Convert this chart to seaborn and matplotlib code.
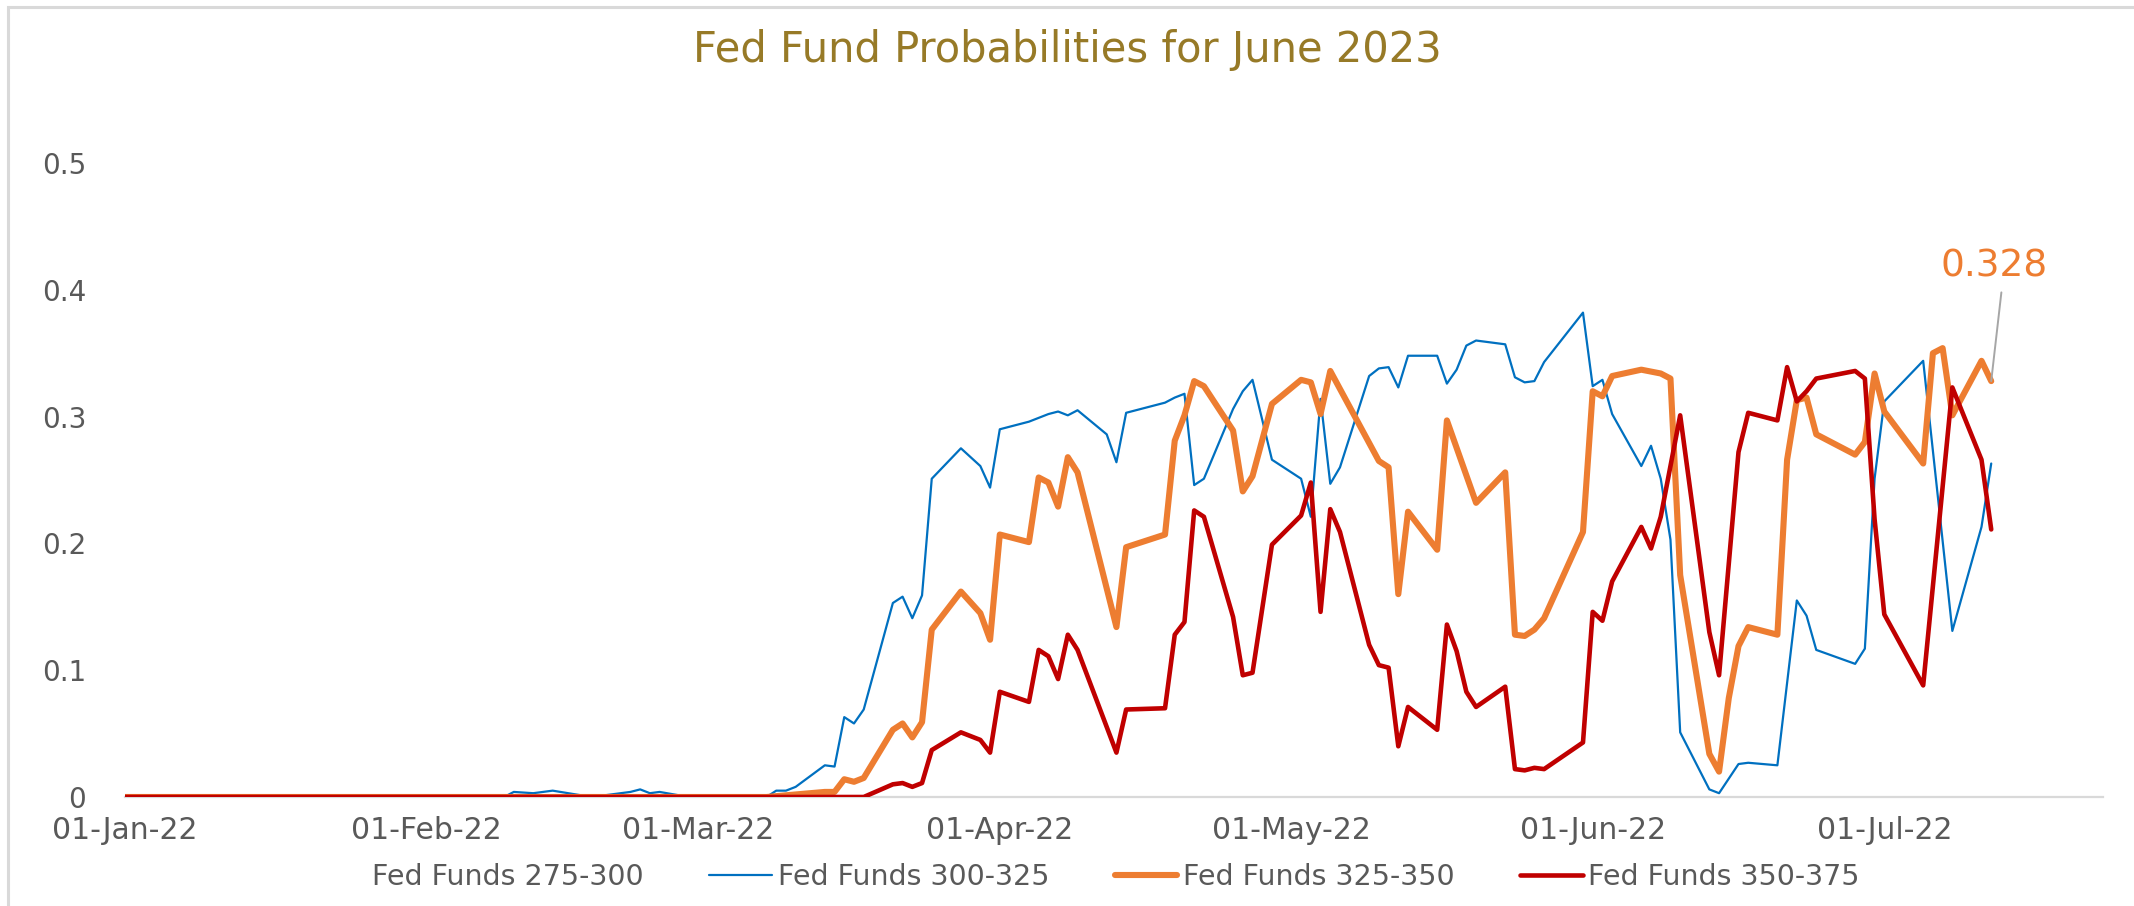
import pandas as pd
import matplotlib
matplotlib.use("Agg")
import matplotlib.pyplot as plt
import matplotlib.dates as mdates
from matplotlib.lines import Line2D
from matplotlib.patches import Rectangle
import seaborn as sns

# Fed funds probabilities for the June 2023 meeting
blue_dates = ['2022-01-01', '2022-02-09', '2022-02-10', '2022-02-12', '2022-02-14', '2022-02-18', '2022-02-19',
              '2022-02-22', '2022-02-23', '2022-02-24', '2022-02-25', '2022-02-28', '2022-03-08', '2022-03-09',
              '2022-03-10', '2022-03-11', '2022-03-14', '2022-03-15', '2022-03-16', '2022-03-17', '2022-03-18',
              '2022-03-21', '2022-03-22', '2022-03-23', '2022-03-24', '2022-03-25', '2022-03-28', '2022-03-30',
              '2022-03-31', '2022-04-01', '2022-04-04', '2022-04-06', '2022-04-07', '2022-04-08', '2022-04-09',
              '2022-04-12', '2022-04-13', '2022-04-14', '2022-04-18', '2022-04-19', '2022-04-20', '2022-04-21',
              '2022-04-22', '2022-04-25', '2022-04-26', '2022-04-27', '2022-04-29', '2022-05-02', '2022-05-03',
              '2022-05-04', '2022-05-05', '2022-05-06', '2022-05-09', '2022-05-10', '2022-05-11', '2022-05-12',
              '2022-05-13', '2022-05-16', '2022-05-17', '2022-05-18', '2022-05-19', '2022-05-20', '2022-05-23',
              '2022-05-24', '2022-05-25', '2022-05-26', '2022-05-27', '2022-05-31', '2022-06-01', '2022-06-02',
              '2022-06-03', '2022-06-06', '2022-06-07', '2022-06-08', '2022-06-09', '2022-06-10', '2022-06-13',
              '2022-06-14', '2022-06-16', '2022-06-17', '2022-06-20', '2022-06-22', '2022-06-23', '2022-06-24',
              '2022-06-28', '2022-06-29', '2022-06-30', '2022-07-01', '2022-07-05', '2022-07-08', '2022-07-11',
              '2022-07-12']
blue_vals = [0, 0, .004, .003, .005, 0, .001, .004, .006, .003, .004, 0, 0, .005,
             .005, .008, .025, .024, .063, .058, .069, .153, .158, .141, .159, .251, .275, .261,
             .244, .290, .296, .302, .304, .301, .305, .286, .264, .303, .311, .315, .318, .246,
             .251, .306, .320, .329, .266, .251, .221, .314, .247, .260, .332, .338, .339, .323,
             .348, .348, .326, .337, .356, .360, .357, .331, .327, .328, .343, .382, .324, .329,
             .302, .261, .277, .251, .203, .051, .006, .003, .026, .027, .025, .155, .143, .116,
             .105, .117, .251, .312, .344, .131, .213, .263]

orange_dates = ['2022-01-01', '2022-03-08', '2022-03-14', '2022-03-15', '2022-03-16', '2022-03-17', '2022-03-18',
                '2022-03-21', '2022-03-22', '2022-03-23', '2022-03-24', '2022-03-25', '2022-03-28', '2022-03-30',
                '2022-03-31', '2022-04-01', '2022-04-04', '2022-04-05', '2022-04-06', '2022-04-07', '2022-04-08',
                '2022-04-09', '2022-04-13', '2022-04-14', '2022-04-18', '2022-04-19', '2022-04-20', '2022-04-21',
                '2022-04-22', '2022-04-25', '2022-04-26', '2022-04-27', '2022-04-29', '2022-05-02', '2022-05-03',
                '2022-05-04', '2022-05-05', '2022-05-10', '2022-05-11', '2022-05-12', '2022-05-13', '2022-05-16',
                '2022-05-17', '2022-05-20', '2022-05-23', '2022-05-24', '2022-05-25', '2022-05-26', '2022-05-27',
                '2022-05-31', '2022-06-01', '2022-06-02', '2022-06-03', '2022-06-06', '2022-06-08', '2022-06-09',
                '2022-06-10', '2022-06-13', '2022-06-14', '2022-06-15', '2022-06-16', '2022-06-17', '2022-06-20',
                '2022-06-21', '2022-06-22', '2022-06-23', '2022-06-24', '2022-06-28', '2022-06-29', '2022-06-30',
                '2022-07-01', '2022-07-05', '2022-07-06', '2022-07-07', '2022-07-08', '2022-07-11', '2022-07-12']
orange_vals = [0, 0, .004, .004, .014, .012, .015, .053, .058, .047, .059, .132, .162, .145,
               .124, .207, .201, .252, .248, .229, .268, .256, .134, .197, .207, .281, .301, .328,
               .324, .289, .241, .253, .310, .329, .327, .302, .336, .265, .260, .160, .225, .195,
               .297, .232, .256, .128, .127, .132, .141, .209, .320, .316, .332, .337, .334, .330,
               .175, .034, .020, .078, .119, .134, .128, .266, .313, .315, .286, .270, .280, .334,
               .304, .263, .350, .354, .301, .344, .328]

red_dates = ['2022-01-01', '2022-03-18', '2022-03-21', '2022-03-22', '2022-03-23', '2022-03-24', '2022-03-25',
             '2022-03-28', '2022-03-30', '2022-03-31', '2022-04-01', '2022-04-04', '2022-04-05', '2022-04-06',
             '2022-04-07', '2022-04-08', '2022-04-09', '2022-04-13', '2022-04-14', '2022-04-18', '2022-04-19',
             '2022-04-20', '2022-04-21', '2022-04-22', '2022-04-25', '2022-04-26', '2022-04-27', '2022-04-29',
             '2022-05-02', '2022-05-03', '2022-05-04', '2022-05-05', '2022-05-06', '2022-05-09', '2022-05-10',
             '2022-05-11', '2022-05-12', '2022-05-13', '2022-05-16', '2022-05-17', '2022-05-18', '2022-05-19',
             '2022-05-20', '2022-05-23', '2022-05-24', '2022-05-25', '2022-05-26', '2022-05-27', '2022-05-31',
             '2022-06-01', '2022-06-02', '2022-06-03', '2022-06-06', '2022-06-07', '2022-06-08', '2022-06-10',
             '2022-06-13', '2022-06-14', '2022-06-16', '2022-06-17', '2022-06-20', '2022-06-21', '2022-06-22',
             '2022-06-23', '2022-06-24', '2022-06-28', '2022-06-29', '2022-06-30', '2022-07-01', '2022-07-05',
             '2022-07-08', '2022-07-11', '2022-07-12']
red_vals = [0, 0, .010, .011, .008, .011, .037, .051, .045, .035, .083, .075, .116, .111,
            .093, .128, .116, .035, .069, .070, .128, .138, .226, .221, .142, .096, .098, .199,
            .222, .248, .146, .227, .209, .120, .104, .102, .040, .071, .053, .136, .115, .083,
            .071, .087, .022, .021, .023, .022, .043, .146, .139, .170, .213, .196, .221, .301,
            .130, .096, .272, .303, .297, .339, .312, .320, .330, .336, .330, .219, .144, .088,
            .323, .266, .211]

series_names = ['Fed Funds 275-300', 'Fed Funds 300-325', 'Fed Funds 325-350', 'Fed Funds 350-375']
colors = ['none', '#0070C0', '#ED7D31', '#C00000']
widths = [1.5, 1.6, 4.4, 3.3]

sns.set_theme(style="white")
plt.rcParams['font.family'] = ['DejaVu Sans']

fig = plt.figure(figsize=(21.34, 9.06), dpi=100)
ax = fig.add_axes([125 / 2134, 1 - 797 / 906, (2103 - 125) / 2134, (797 - 163) / 906])

frames = [
    pd.DataFrame({'date': pd.to_datetime(blue_dates), 'prob': blue_vals}),
    pd.DataFrame({'date': pd.to_datetime(orange_dates), 'prob': orange_vals}),
    pd.DataFrame({'date': pd.to_datetime(red_dates), 'prob': red_vals}),
]

for df, name, c, w in zip(frames, series_names[1:], colors[1:], widths[1:]):
    sns.lineplot(data=df, x='date', y='prob', ax=ax, color=c, linewidth=w,
                 estimator=None, sort=False, label=name, legend=False)

ax.set_ylim(0, 0.5)
ax.set_xlim(pd.Timestamp('2022-01-01'), pd.Timestamp('2022-07-23 12:00'))
ax.set_yticks([0, 0.1, 0.2, 0.3, 0.4, 0.5])
ax.set_yticklabels(['0', '0.1', '0.2', '0.3', '0.4', '0.5'])
ax.xaxis.set_major_locator(mdates.MonthLocator())
ax.xaxis.set_major_formatter(mdates.DateFormatter('%d-%b-%y'))
ax.tick_params(axis='y', length=0, pad=28, labelsize=20, labelcolor='#595959')
ax.tick_params(axis='x', length=0, pad=14, labelsize=21.5, labelcolor='#595959')
ax.set_xlabel('')
ax.set_ylabel('')
ax.grid(False)
for s in ['left', 'top', 'right']:
    ax.spines[s].set_visible(False)
ax.spines['bottom'].set_color('#D9D9D9')
ax.spines['bottom'].set_linewidth(1.6)
ax.spines['bottom'].set_zorder(0)

# label on the last point of the 325-350 series
last_date = pd.Timestamp(orange_dates[-1])
ax.annotate(f"{orange_vals[-1]:.3f}", xy=(last_date, orange_vals[-1]),
            xytext=(pd.Timestamp('2022-07-12 06:00'), 0.418),
            ha='center', va='center', fontsize=27, color='#ED7D31',
            arrowprops=dict(arrowstyle='-', color='#A6A6A6', lw=1.4, shrinkA=3, shrinkB=0,
                            relpos=(0.58, 0)))

handles = [Line2D([], [], color=c, lw=w) for c, w in zip(colors, widths)]
leg = ax.legend(handles, series_names, ncol=4, loc='center', bbox_to_anchor=(0.507, 0.032),
                bbox_transform=fig.transFigure, frameon=False, fontsize=20.5,
                handlelength=2.2, handletextpad=0.2, columnspacing=2.3)
for t in leg.get_texts():
    t.set_color('#595959')

fig.suptitle('Fed Fund Probabilities for June 2023', y=1 - 50 / 906, va='center',
             fontsize=30, color='#977A27')

fig.patches.append(Rectangle((8 / 2134, -0.05), 1.1, 1 - 7 / 906 + 0.05, transform=fig.transFigure,
                             fill=False, edgecolor='#D9D9D9', linewidth=2.2))

fig.savefig('out.png', dpi=100)
